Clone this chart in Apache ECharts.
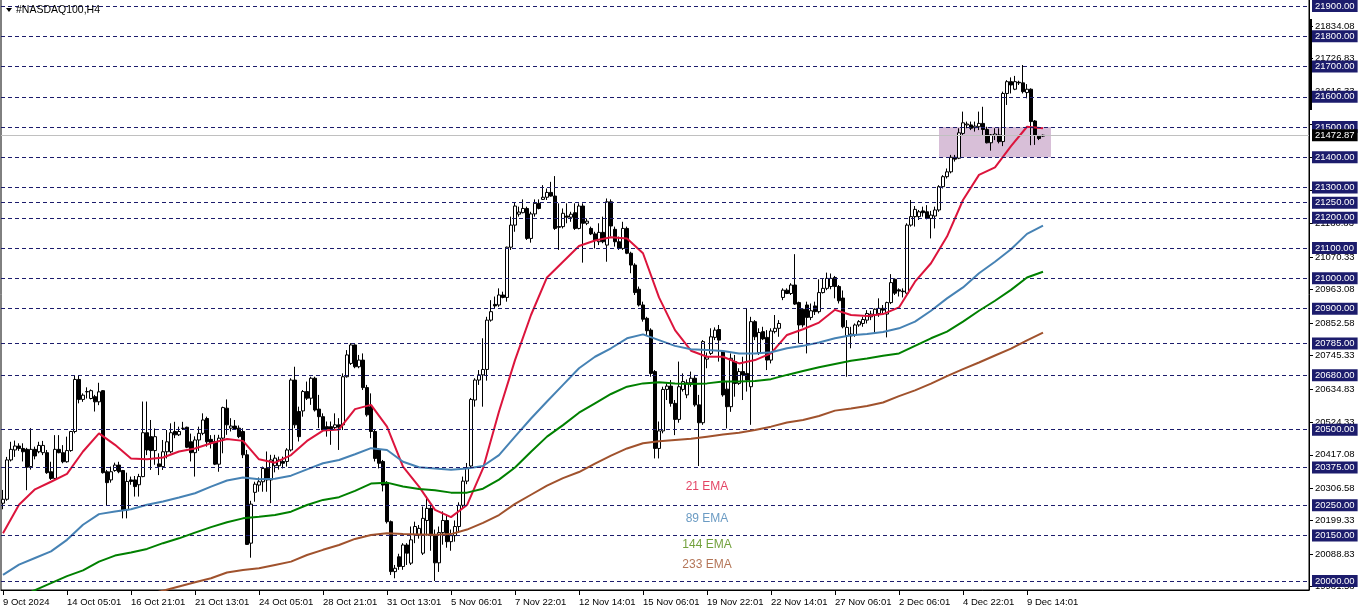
<!DOCTYPE html>
<html><head><meta charset="utf-8">
<script src="https://cdn.jsdelivr.net/npm/echarts@6/dist/echarts.min.js"></script>
<style>html,body{margin:0;padding:0;background:#fff}#c{width:1362px;height:611px}</style>
</head><body><div id="c"></div>
<script>
// ---- DATA ----
const timeLabels = ['9 Oct 2024','14 Oct 05:01','16 Oct 21:01','21 Oct 13:01','24 Oct 05:01','28 Oct 21:01','31 Oct 13:01','5 Nov 06:01','7 Nov 22:01','12 Nov 14:01','15 Nov 06:01','19 Nov 22:01','22 Nov 14:01','27 Nov 06:01','2 Dec 06:01','4 Dec 22:01','9 Dec 14:01'];
const labelEvery = 16;      // bars between time labels
const slotCount = 327;      // bar slots on the time axis (incl. right shift)

// candles: [open, close, low, high]
const candles = [
[20257,20270,20237,20301],[20270,20400,20265,20410],[20400,20435,20395,20460],[20433,20446,20410,20464],[20446,20438,20430,20455],
[20438,20427,20395,20455],[20435,20376,20300,20440],[20378,20435,20368,20505],[20435,20413,20402,20444],[20427,20448,20422,20460],
[20424,20448,20416,20463],[20424,20358,20354,20433],[20361,20339,20334,20394],[20339,20435,20334,20482],[20435,20424,20422,20482],
[20424,20394,20389,20449],[20394,20431,20391,20477],[20431,20494,20427,20496],[20494,20666,20488,20680],[20666,20600,20587,20680],
[20600,20614,20592,20620],[20625,20626,20603,20640],[20603,20629,20600,20633],[20609,20592,20560,20615],[20592,20625,20581,20655],
[20629,20358,20355,20631],[20361,20325,20251,20367],[20334,20361,20325,20378],[20365,20383,20361,20391],[20383,20361,20356,20394],
[20365,20235,20207,20367],[20235,20329,20207,20358],[20334,20329,20318,20345],[20334,20312,20279,20347],[20318,20345,20279,20354],
[20345,20490,20343,20593],[20490,20433,20416,20593],[20477,20431,20367,20532],[20431,20477,20384,20504],[20387,20378,20350,20422],
[20378,20427,20367,20466],[20427,20460,20405,20499],[20427,20490,20422,20521],[20494,20483,20472,20526],[20483,20494,20479,20510],
[20504,20505,20499,20526],[20508,20442,20439,20510],[20460,20424,20395,20487],[20424,20466,20345,20478],[20466,20488,20430,20510],
[20488,20532,20482,20554],[20537,20460,20444,20543],[20468,20455,20438,20482],[20461,20386,20383,20483],[20386,20472,20361,20483],
[20472,20573,20422,20576],[20571,20516,20483,20600],[20505,20512,20494,20538],[20512,20502,20499,20532],[20505,20477,20472,20514],
[20494,20417,20406,20505],[20417,20121,20119,20433],[20125,20254,20077,20265],[20293,20320,20262,20328],[20317,20328,20295,20342],
[20328,20372,20295,20378],[20372,20334,20295,20428],[20334,20400,20257,20417],[20381,20406,20359,20417],[20381,20400,20368,20411],
[20395,20389,20372,20411],[20395,20433,20378,20439],[20433,20664,20428,20670],[20664,20516,20505,20708],[20560,20477,20461,20576],
[20562,20626,20543,20631],[20626,20604,20598,20659],[20604,20670,20582,20675],[20670,20565,20560,20675],[20568,20543,20505,20615],
[20543,20499,20499,20554],[20510,20502,20477,20527],[20510,20502,20450,20527],[20507,20516,20499,20554],[20516,20508,20433,20538],
[20516,20675,20499,20686],[20675,20747,20672,20763],[20719,20780,20714,20786],[20780,20708,20703,20782],[20708,20730,20703,20747],
[20730,20639,20631,20752],[20639,20549,20543,20648],[20576,20494,20472,20620],[20494,20405,20395,20499],[20433,20389,20372,20439],
[20395,20317,20296,20400],[20323,20196,20190,20330],[20196,20031,20020,20200],[20031,20042,20009,20053],[20080,20048,20037,20090],
[20048,20119,20037,20125],[20119,20092,20053,20125],[20059,20136,20053,20180],[20152,20180,20125,20196],[20152,20174,20140,20185],
[20092,20207,20086,20246],[20200,20240,20150,20280],[20240,20150,20100,20250],[20150,20060,20000,20170],[20060,20160,20030,20180],
[20160,20200,20120,20230],[20200,20130,20110,20220],[20130,20150,20100,20170],[20150,20180,20130,20200],[20180,20250,20160,20260],
[20250,20330,20240,20345],[20330,20375,20320,20390],[20380,20600,20370,20605],[20598,20664,20576,20670],[20664,20681,20648,20697],
[20681,20699,20576,20802],[20699,20862,20662,20873],[20862,20890,20857,20928],[20914,20909,20901,20940],[20912,20945,20906,20967],
[20945,20937,20934,20956],[20937,21103,20923,21105],[21103,21176,21094,21204],[21176,21239,21154,21250],[21212,21219,21204,21237],
[21217,21231,21215,21261],[21231,21132,21127,21237],[21132,21213,21118,21220],[21213,21248,21204,21261],[21248,21231,21228,21261],
[21261,21268,21259,21308],[21268,21284,21259,21297],[21284,21272,21270,21319],[21272,21165,21160,21338],[21171,21169,21094,21248],
[21171,21215,21165,21231],[21206,21202,21182,21248],[21202,21212,21187,21220],[21217,21165,21160,21248],[21165,21239,21162,21248],
[21239,21182,21052,21248],[21182,21189,21176,21198],[21165,21147,21143,21171],[21147,21127,21099,21154],[21121,21152,21110,21182],
[21152,21121,21116,21204],[21110,21253,21055,21264],[21253,21173,21138,21261],[21162,21121,21105,21171],[21121,21099,21094,21138],
[21099,21165,21094,21187],[21165,21083,21080,21171],[21083,21044,21017,21088],[21044,20953,20945,21050],[20964,20912,20907,20973],
[20912,20865,20857,20923],[20868,20827,20813,20873],[20829,20686,20675,20835],[20692,20438,20405,20697],[20438,20496,20405,20527],
[20496,20633,20488,20642],[20633,20644,20598,20653],[20644,20587,20576,20664],[20587,20534,20482,20598],[20534,20642,20523,20725],
[20633,20659,20626,20686],[20615,20655,20604,20666],[20655,20670,20642,20692],[20670,20582,20576,20681],[20582,20523,20380,20615],
[20523,20791,20516,20796],[20733,20741,20703,20755],[20752,20807,20747,20835],[20805,20829,20796,20838],[20831,20796,20725,20846],
[20758,20615,20609,20763],[20634,20576,20504,20659],[20576,20736,20559,20752],[20725,20653,20609,20747],[20653,20692,20648,20703],
[20692,20681,20598,20741],[20686,20664,20626,20901],[20642,20857,20516,20873],[20857,20807,20796,20862],[20755,20821,20747,20835],
[20824,20800,20796,20840],[20805,20730,20697,20829],[20730,20826,20719,20835],[20824,20835,20818,20879],[20835,20851,20807,20862],
[20937,20961,20928,20967],[20961,20950,20948,20967],[20950,20978,20945,20984],[20978,20915,20912,21080],[20920,20846,20785,20923],
[20898,20846,20838,20901],[20912,20871,20752,20923],[20871,20893,20862,20917],[20909,20890,20879,20923],[20890,20953,20884,20997],
[20953,20967,20950,21000],[20967,21000,20961,21019],[20973,21000,20964,21016],[21003,20973,20934,21008],[20973,20926,20917,20978],
[20935,20840,20835,20960],[20810,20838,20675,20862],[20810,20816,20769,20840],[20813,20846,20807,20851],[20846,20857,20840,20862],
[20851,20864,20840,20873],[20862,20884,20851,20895],[20873,20882,20862,20893],[20879,20898,20821,20901],[20884,20901,20873,20934],
[20901,20895,20884,20912],[20882,20920,20805,20923],[20920,20986,20915,21014],[20997,20951,20945,21000],[20962,20958,20940,20967],
[20958,20956,20937,20967],[20951,21176,20945,21182],[21176,21204,21171,21259],[21204,21228,21171,21239],[21204,21220,21193,21226],
[21223,21217,21204,21237],[21220,21198,21195,21242],[21198,21209,21132,21223],[21206,21226,21165,21237],[21226,21303,21220,21308],
[21303,21336,21297,21341],[21336,21352,21330,21363],[21352,21400,21347,21408],[21400,21394,21386,21408],[21397,21481,21394,21496],
[21479,21514,21474,21551],[21507,21510,21496,21518],[21507,21496,21490,21518],[21498,21503,21485,21518],[21501,21512,21490,21551],
[21512,21492,21474,21567],[21492,21448,21446,21501],[21448,21474,21422,21477],[21472,21477,21457,21496],[21474,21452,21446,21496],
[21452,21611,21437,21617],[21611,21650,21573,21655],[21650,21639,21611,21664],[21625,21650,21622,21669],[21648,21646,21639,21653],
[21646,21617,21611,21705],[21614,21625,21595,21642],[21625,21518,21440,21628],[21520,21474,21441,21523],[21470,21462,21457,21474],
[21470,21472.87,21467,21475]
];

const emaBars = [0,4,8,12,16,20,24,28,32,36,40,44,48,52,56,60,64,68,72,76,80,84,88,92,96,100,104,108,112,116,120,124,128,132,136,140,144,148,152,156,160,164,168,172,176,180,184,188,192,196,200,204,208,212,216,220,224,228,232,236,240,244,248,252,256,260];
const ema21 = [20158,20252,20303,20328,20354,20428,20488,20450,20405,20402,20408,20428,20438,20455,20469,20463,20402,20391,20416,20463,20497,20501,20568,20582,20510,20378,20312,20235,20211,20251,20372,20560,20730,20879,21003,21055,21107,21125,21136,21132,21083,20937,20829,20761,20741,20741,20719,20730,20752,20813,20832,20854,20896,20879,20876,20882,20904,20989,21050,21138,21259,21342,21367,21437,21501,21496];
const ema89 = [20020,20054,20076,20098,20136,20186,20221,20230,20237,20252,20263,20276,20290,20312,20332,20342,20336,20338,20348,20369,20389,20400,20419,20439,20433,20394,20376,20372,20368,20372,20380,20416,20477,20537,20593,20648,20703,20741,20769,20802,20815,20796,20777,20766,20763,20760,20752,20752,20756,20769,20777,20788,20802,20812,20816,20823,20835,20857,20893,20934,20970,21017,21055,21096,21147,21174];
const ema144 = [19924,19947,19970,19993,20016,20035,20064,20084,20094,20106,20125,20141,20160,20178,20194,20207,20212,20218,20229,20251,20268,20277,20298,20322,20325,20312,20304,20300,20292,20292,20305,20335,20375,20427,20477,20515,20556,20587,20618,20642,20653,20657,20653,20651,20653,20659,20659,20661,20667,20681,20694,20706,20717,20728,20735,20744,20752,20777,20802,20824,20857,20893,20926,20962,21003,21022];
const ema233 = [null,null,null,null,null,null,null,null,19940,19954,19968,19982,19996,20009,20028,20036,20042,20053,20064,20086,20103,20119,20139,20152,20158,20155,20154,20153,20155,20170,20192,20218,20255,20285,20315,20340,20360,20388,20414,20438,20455,20462,20466,20470,20477,20484,20490,20499,20510,20524,20532,20545,20563,20570,20578,20590,20611,20630,20652,20677,20700,20722,20745,20768,20795,20821];

const levels = [21900,21800,21700,21600,21500,21400,21300,21250,21200,21100,21000,20900,20785,20680,20500,20375,20250,20150,20000];
const scaleLabels = [21834.08,21726.83,21616.33,21509.08,21398.58,21291.33,21180.83,21070.33,20963.08,20852.58,20745.33,20634.83,20524.33,20417.08,20306.58,20199.33,20088.83,19981.58];
const lastPrice = 21472.87;
const zoneBars = [234.25, 261.75];
const zonePrices = [21500, 21400];
const emaLabelText = ['21 EMA','89 EMA','144 EMA','233 EMA'];
const emaLabelPrice = [20311, 20205, 20119, 20053];
const emaLabelBar = [176, 176, 176, 176];
const yMin = 19970.26, yMax = 21923.13;

// ---- CHART ----
const emaColors = ['#dc143c','#4682b4','#008000','#a0522d'];
const emaTextColors = ['#dc143c','#4682b4','#4f8a0b','#a0522d'];
const FONT = 'Liberation Sans';
const cats = Array.from({length: slotCount}, (_, i) => String(i));
const emaPairs = arr => emaBars.map((b, k) => arr[k] == null ? null : [b, arr[k]]).filter(Boolean);
const showLbl = (i) => i % labelEvery === 0 && i / labelEvery < timeLabels.length;

function yAx(extra) {
  return Object.assign({
    type: 'value', position: 'right', min: yMin, max: yMax, scale: true,
    splitLine: {show: false}, axisLine: {show: false}, axisTick: {show: false}, axisLabel: {show: false}
  }, extra);
}

const chart = echarts.init(document.getElementById('c'), null, {renderer: 'canvas'});
chart.setOption({
  animation: false,
  backgroundColor: '#ffffff',
  grid: {left: 1, right: 53, top: -1, bottom: 21, show: true, borderColor: '#000', borderWidth: 1, backgroundColor: '#fff', containLabel: false, outerBoundsMode: 'none'},
  xAxis: {
    type: 'category', data: cats, boundaryGap: true,
    axisLine: {show: true, lineStyle: {color: '#000', width: 1}},
    axisTick: {show: true, alignWithLabel: true, length: 5, interval: (i) => showLbl(i), lineStyle: {color: '#000'}},
    axisLabel: {show: true, interval: (i) => showLbl(i), formatter: (v, i) => timeLabels[i / labelEvery] || '',
      align: 'left', margin: 7, color: '#000', fontSize: 9.5, fontFamily: FONT},
    splitLine: {show: false}
  },
  yAxis: [
    yAx({
      axisLine: {show: true, lineStyle: {color: '#000', width: 1}},
      axisTick: {show: true, customValues: scaleLabels, length: 4, lineStyle: {color: '#000'}},
      axisLabel: {show: true, customValues: scaleLabels, formatter: v => v.toFixed(2), color: '#000', fontSize: 9.5, fontFamily: FONT, margin: 6},
      z: 0
    }),
    yAx({
      axisLabel: {show: true, customValues: levels, formatter: v => v.toFixed(2), color: '#fff', backgroundColor: '#1c1c6c',
        padding: [1, 3, 1, 3], lineHeight: 10, fontSize: 9.5, fontFamily: FONT, margin: 3},
      z: 2
    }),
    yAx({
      axisLabel: {show: true, customValues: [lastPrice], formatter: v => v.toFixed(2), color: '#fff', backgroundColor: '#000',
        padding: [1, 3, 1, 3], lineHeight: 10, fontSize: 9.5, fontFamily: FONT, margin: 3},
      z: 3
    })
  ],
  graphic: [
    {type: 'polygon', shape: {points: [[6, 8], [12, 8], [9, 12]]}, style: {fill: '#000'}, z: 10},
    {type: 'text', x: 16, y: 10, style: {text: '#NASDAQ100,H4', fill: '#000', font: '10.5px "Liberation Sans"', textVerticalAlign: 'middle'}, z: 10},
    {type: 'rect', shape: {x: 1309, y: 19, width: 3, height: 91}, style: {fill: '#000'}, z: 10}
  ],
  series: [
    {
      type: 'line', name: 'levels', data: [], z: 1, silent: true,
      markArea: {silent: true, itemStyle: {color: '#d8bfd8', opacity: 1},
        data: [[{xAxis: zoneBars[0], yAxis: zonePrices[0]}, {xAxis: zoneBars[1], yAxis: zonePrices[1]}]]},
      markLine: {silent: true, symbol: ['none', 'none'], label: {show: false},
        data: levels.map(v => ({yAxis: v, lineStyle: {color: '#1c1c6c', type: [4, 3], width: 1}}))
          .concat([{yAxis: lastPrice, lineStyle: {color: '#c0c0c0', type: 'solid', width: 1}}])}
    },
    {
      type: 'candlestick', name: 'NASDAQ100', data: candles, z: 2, barWidth: 3,
      itemStyle: {color: '#ffffff', color0: '#000000', borderColor: '#000000', borderColor0: '#000000', borderColorDoji: '#000000', borderWidth: 1}
    },
    ...[ema21, ema89, ema144, ema233].map((arr, k) => ({
      type: 'line', name: emaLabelText[k], data: emaPairs(arr), z: 3 + k, showSymbol: false, smooth: false, clip: true,
      lineStyle: {color: emaColors[k], width: 2}, silent: true
    })),
    {
      type: 'scatter', name: 'emaLabels', z: 10, symbolSize: 1, silent: true,
      itemStyle: {color: 'rgba(0,0,0,0)'},
      data: emaLabelText.map((t, k) => ({value: [emaLabelBar[k], emaLabelPrice[k], t],
        label: {show: true, position: 'inside', formatter: p => p.data.value[2], color: emaTextColors[k], fontSize: 12, fontFamily: FONT}}))
    }
  ]
});
</script></body></html>
